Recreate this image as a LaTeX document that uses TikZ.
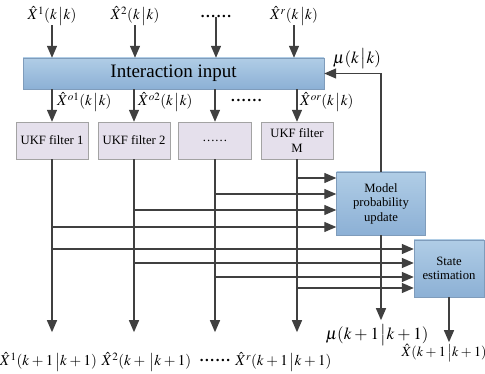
\documentclass[tikz,border=0pt]{standalone}
\usepackage{mathptmx}
\usepackage[no-math]{fontspec}
\setmainfont{Liberation Serif}
\usetikzlibrary{arrows.meta}
\definecolor{lnc}{HTML}{404040}
\definecolor{btop}{HTML}{B0CDE6}
\definecolor{bbot}{HTML}{8CB0D5}
\definecolor{bbd}{HTML}{7F9CBB}
\definecolor{ffill}{HTML}{E5E0EC}
\definecolor{fbd}{HTML}{A3A3A3}
\newcommand{\sixdots}{\textbf{.\kern1.6pt.\kern1.6pt.\kern1.6pt.\kern1.6pt.\kern1.6pt.}}
\newcommand{\pl}{\mkern3mu{+}\mkern3mu}
\newcommand{\br}{\mkern2mu\big|}
\begin{document}
\begin{tikzpicture}[x=1pt,y=-1pt,
  arr/.style={draw=lnc,line width=1.3pt,-{Triangle[length=12pt,width=10pt]}},
  bluebox/.style={draw=bbd,top color=btop,bottom color=bbot,inner sep=0pt,align=center,font=\fontsize{12.7}{14.5}\selectfont},
  ukf/.style={draw=fbd,fill=ffill,minimum width=72pt,minimum height=37pt,align=center,font=\fontsize{12.7}{14.5}\selectfont,inner sep=0pt},
  lab/.style={font=\fontsize{15}{17}\selectfont,inner sep=0pt},
  mulab/.style={font=\fontsize{17}{19}\selectfont,inner sep=0pt},
]
\useasboundingbox (0,0) rectangle (485,374);

% boxes
\node[bluebox,minimum width=301pt,minimum height=31pt,font=\fontsize{19}{22}\selectfont] (inter) at (173.5,73.5) {Interaction input};
\node[ukf] (f1) at (52,140.5) {UKF filter 1};
\node[ukf] (f2) at (134,140.5) {UKF filter 2};
\node[ukf,minimum width=73pt] (f3) at (215,140.5) {.\kern1pt.\kern1pt.\kern1pt.\kern1pt.\kern1pt.};
\node[ukf] (f4) at (297,140.5) {UKF filter\\M};
\node[bluebox,minimum width=89pt,minimum height=63pt] (model) at (381,203.5) {Model\\probability\\update};
\node[bluebox,minimum width=70pt,minimum height=57pt] (state) at (449,268.5) {State\\estimation};

% top labels
\node[lab] (t1) at (52,16) {$\hat{X}^1(k\br k)$};
\node[lab] (t2) at (135,16) {$\hat{X}^2(k\br k)$};
\node[lab] (t3) at (216,16) {\sixdots};
\node[lab] (t4) at (294,16) {$\hat{X}^r(k\br k)$};
\foreach \t in {t1,t2,t3,t4}
  \draw[arr] (\t.south) -- (\t.south |- inter.north);

% mu(k|k)
\node[mulab] (mu1) at (357,59) {$\mu(k\br k)$};
\draw[arr] (model.north) |- (inter.east);

% second-row labels
\node[lab,anchor=west] (m1) at (57,102) {$\hat{X}^{o1}(k\br k)$};
\node[lab,anchor=west] (m2) at (138,102) {$\hat{X}^{o2}(k\br k)$};
\node[lab,anchor=west] (m3) at (231,100) {\sixdots};
\node[lab,anchor=west] (m4) at (300,102) {$\hat{X}^{or}(k\br k)$};
\foreach \f in {f1,f2,f3,f4}
  \draw[arr] (\f.north |- inter.south) -- (\f.north);

% bottom labels
\node[lab] (o1) at (48.5,362) {$\hat{X}^1(k\pl 1\br k\pl 1)$};
\node[lab] (o2) at (146.5,362) {$\hat{X}^2(k\pl\br k\pl 1)$};
\node[lab] (o3) at (215,360) {\sixdots};
\node[lab] (o4) at (283.5,362) {$\hat{X}^r(k\pl 1\br k\pl 1)$};
\node[mulab] (mu2) at (377,335) {$\mu(k\pl 1\br k\pl 1)$};
\node[lab,font=\fontsize{14}{16}\selectfont] (xh) at (444,353) {$\hat{X}(k\pl 1\br k\pl 1)$};

% vertical outputs
\foreach \f in {f1,f2,f3,f4}
  \draw[arr] (\f.south) -- ++(0,173);
\draw[arr] (model.south) -- ++(0,85);
\draw[arr] (state.south) -- ++(0,45);

% into model
\draw[arr] (f4.south |- 0,178) -- (model.west |- 0,178);
\draw[arr] (f3.south |- 0,194) -- (model.west |- 0,194);
\draw[arr] (f2.south |- 0,210) -- (model.west |- 0,210);
\draw[arr] (f1.south |- 0,227) -- (model.west |- 0,227);
% into state
\draw[arr] (f1.south |- 0,249) -- (state.west |- 0,249);
\draw[arr] (f2.south |- 0,263) -- (state.west |- 0,263);
\draw[arr] (f3.south |- 0,277) -- (state.west |- 0,277);
\draw[arr] (f4.south |- 0,288) -- (state.west |- 0,288);
\end{tikzpicture}
\end{document}
